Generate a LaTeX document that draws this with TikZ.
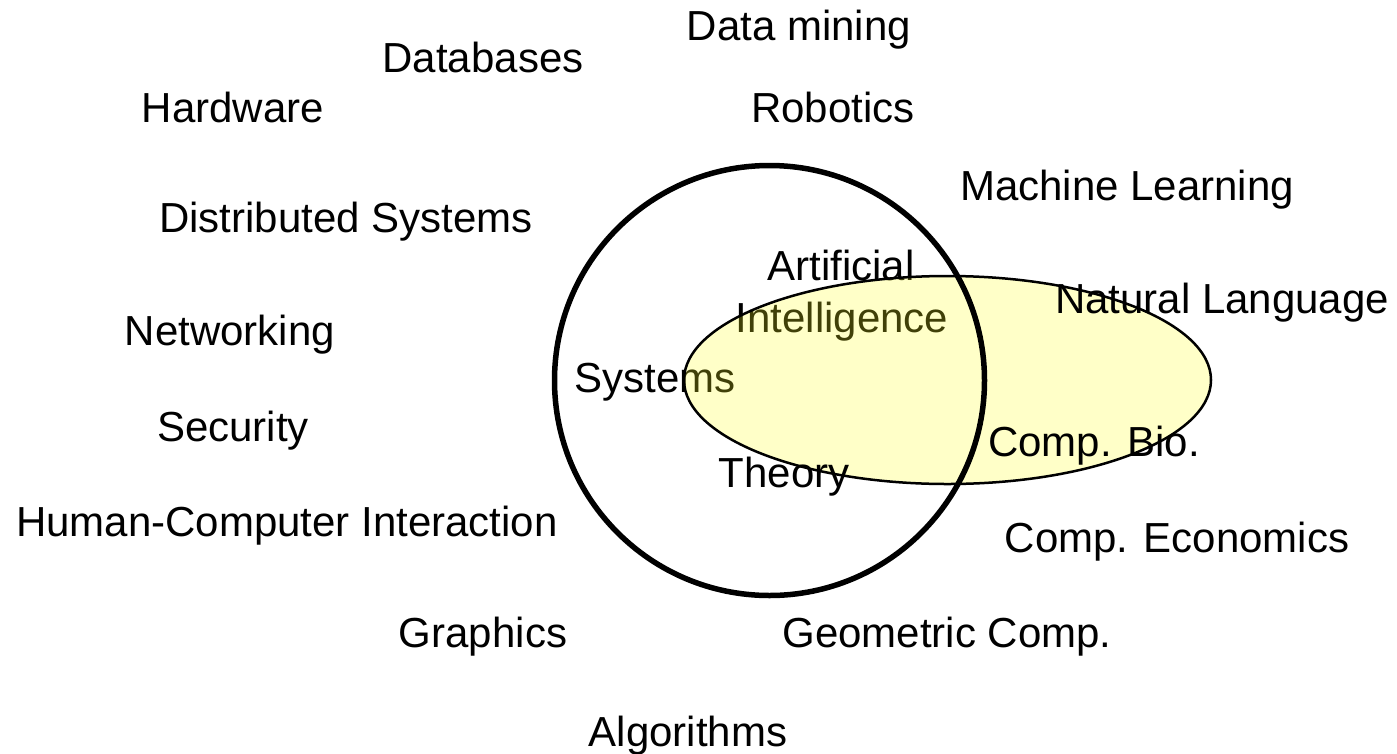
\documentclass[tikz,border=0pt]{standalone}
\usepackage{fontspec}
\setmainfont{Liberation Sans}
\usetikzlibrary{positioning}

\definecolor{aifill}{RGB}{255,255,35}

\begin{document}
\begin{tikzpicture}[x=1pt,y=-1pt,
    field/.style={anchor=base,inner sep=0pt,font=\fontsize{42}{50}\selectfont}]
      \useasboundingbox (0,0) rectangle (1397,753);

      \node[field] (datamining) at (799,40)   {Data mining};
      \node[field] (databases)  at (483,72)   {Databases};
      \node[field] (hardware)   at (233,122)  {Hardware};
      \node[field] (robotics)   at (833,122)  {Robotics};
      \node[field] (ml)         at (1127,200) {Machine Learning};
      \node[field] (distsys)    at (346,232)  {Distributed Systems};
      \node[field] (networking) at (230,345)  {Networking};
      \node[field] (security)   at (233,441)  {Security};
      \node[field] (hci)        at (287,536)  {Human-Computer Interaction};
      \node[field] (compecon)   at (1177,552) {Comp. Economics};
      \node[field] (graphics)   at (483,647)  {Graphics};
      \node[field] (geocomp)    at (947,647)  {Geometric Comp.};
      \node[field] (algorithms) at (688,746)  {Algorithms};

      % labels under the yellow area
      \node[field] (artificial)   at (841,280) {Artificial};
      \node[field] (intelligence) at (842,332) {Intelligence};
      \node[field] (systems)      at (655,392) {Systems};

      \filldraw[draw=black,line width=2.5pt,fill=aifill,fill opacity=0.25]
        (947.5,380) ellipse [x radius=263.5pt,y radius=104pt];

      \node[field] (natlang) at (1222,313) {Natural Language};
      \node[field] (compbio) at (1094,456) {Comp. Bio.};
      \node[field] (theory)  at (784,487)  {Theory};

      \draw[line width=5.5pt] (769.5,380.5) circle [radius=215pt];
    \end{tikzpicture}
\end{document}
